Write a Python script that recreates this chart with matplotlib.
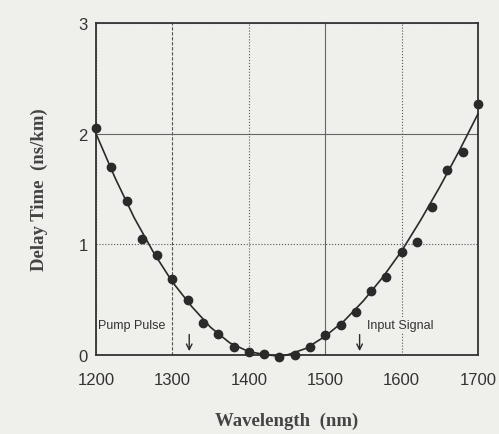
import numpy as np
import matplotlib.pyplot as plt

# measured points (nm, ns/km)
wl_pts = [1200, 1220, 1240, 1260, 1280, 1300, 1320, 1340, 1360, 1380, 1400, 1420, 1440,
          1460, 1480, 1500, 1520, 1540, 1560, 1580, 1600, 1620, 1640, 1660, 1680, 1700]
delay_pts = [2.05, 1.70, 1.39, 1.045, 0.90, 0.69, 0.50, 0.285, 0.19, 0.07, 0.025, 0.01, -0.02,
             0.0, 0.075, 0.18, 0.27, 0.39, 0.58, 0.705, 0.93, 1.02, 1.34, 1.67, 1.83, 2.27]

# fitted curve
wl_fit = [1200, 1225, 1250, 1275, 1300, 1325, 1350, 1375, 1400, 1425, 1440, 1450,
          1475, 1500, 1525, 1550, 1575, 1600, 1625, 1650, 1675, 1700]
delay_fit = [2.0, 1.6, 1.24, 0.93, 0.66, 0.44, 0.25, 0.11, 0.03, 0.0, -0.01, 0.0,
             0.06, 0.17, 0.31, 0.49, 0.70, 0.94, 1.22, 1.52, 1.84, 2.18]

xticks = [1200, 1300, 1400, 1500, 1600, 1700]
yticks = [0, 1, 2, 3]

bg = '#efefec'
ink = '#2a2a2a'

fig = plt.figure(figsize=(4.99, 4.35), dpi=100, facecolor=bg)
ax = fig.add_axes([0.1924, 0.1816, 0.7656, 0.7632], facecolor=bg)

ax.plot(wl_fit, delay_fit, color=ink, lw=1.2, zorder=3, clip_on=False)
ax.plot(wl_pts, delay_pts, 'o', color=ink, ms=6, zorder=4, clip_on=False)

ax.set_xlim(1200, 1700)
ax.set_ylim(0, 3)
ax.set_xticks(xticks)
ax.set_yticks(yticks)
ax.tick_params(length=0, labelsize=12, colors='#333333')
ax.tick_params(axis='x', pad=12)
ax.tick_params(axis='y', pad=6)
for lab in ax.get_xticklabels() + ax.get_yticklabels():
    lab.set_family('Liberation Sans')

ax.grid(True, color='#555555', lw=0.8, ls=':')
xg = ax.xaxis.get_gridlines()
xg[1].set_linestyle((0, (3, 1.5)))
xg[3].set_linestyle('-')
xg[3].set_color('#666666')
ax.yaxis.get_gridlines()[2].set_linestyle('-')
ax.yaxis.get_gridlines()[2].set_color('#666666')

for s in ax.spines.values():
    s.set_color('#333333')
    s.set_linewidth(1.3)

ax.set_xlabel('Wavelength  (nm)', family='Liberation Serif', fontweight='bold',
              fontsize=13.5, color='#444444', labelpad=18)
ax.set_ylabel('Delay Time  (ns/km)', family='Liberation Serif', fontweight='bold',
              fontsize=13.5, color='#444444', labelpad=22)

ax.text(1203, 0.22, 'Pump Pulse', family='Liberation Sans', fontsize=9, color='#333333',
        ha='left', va='bottom', bbox=dict(facecolor=bg, edgecolor='none', pad=1), zorder=2)
ax.text(1555, 0.22, 'Input Signal', family='Liberation Sans', fontsize=9, color='#333333',
        ha='left', va='bottom', bbox=dict(facecolor=bg, edgecolor='none', pad=1), zorder=2)
ax.annotate('', xy=(1322, 0.01), xytext=(1322, 0.21),
            arrowprops=dict(arrowstyle='->', color=ink, lw=1.0))
ax.annotate('', xy=(1545, 0.01), xytext=(1545, 0.21),
            arrowprops=dict(arrowstyle='->', color=ink, lw=1.0))

fig.savefig('out.png', dpi=100, facecolor=bg)
